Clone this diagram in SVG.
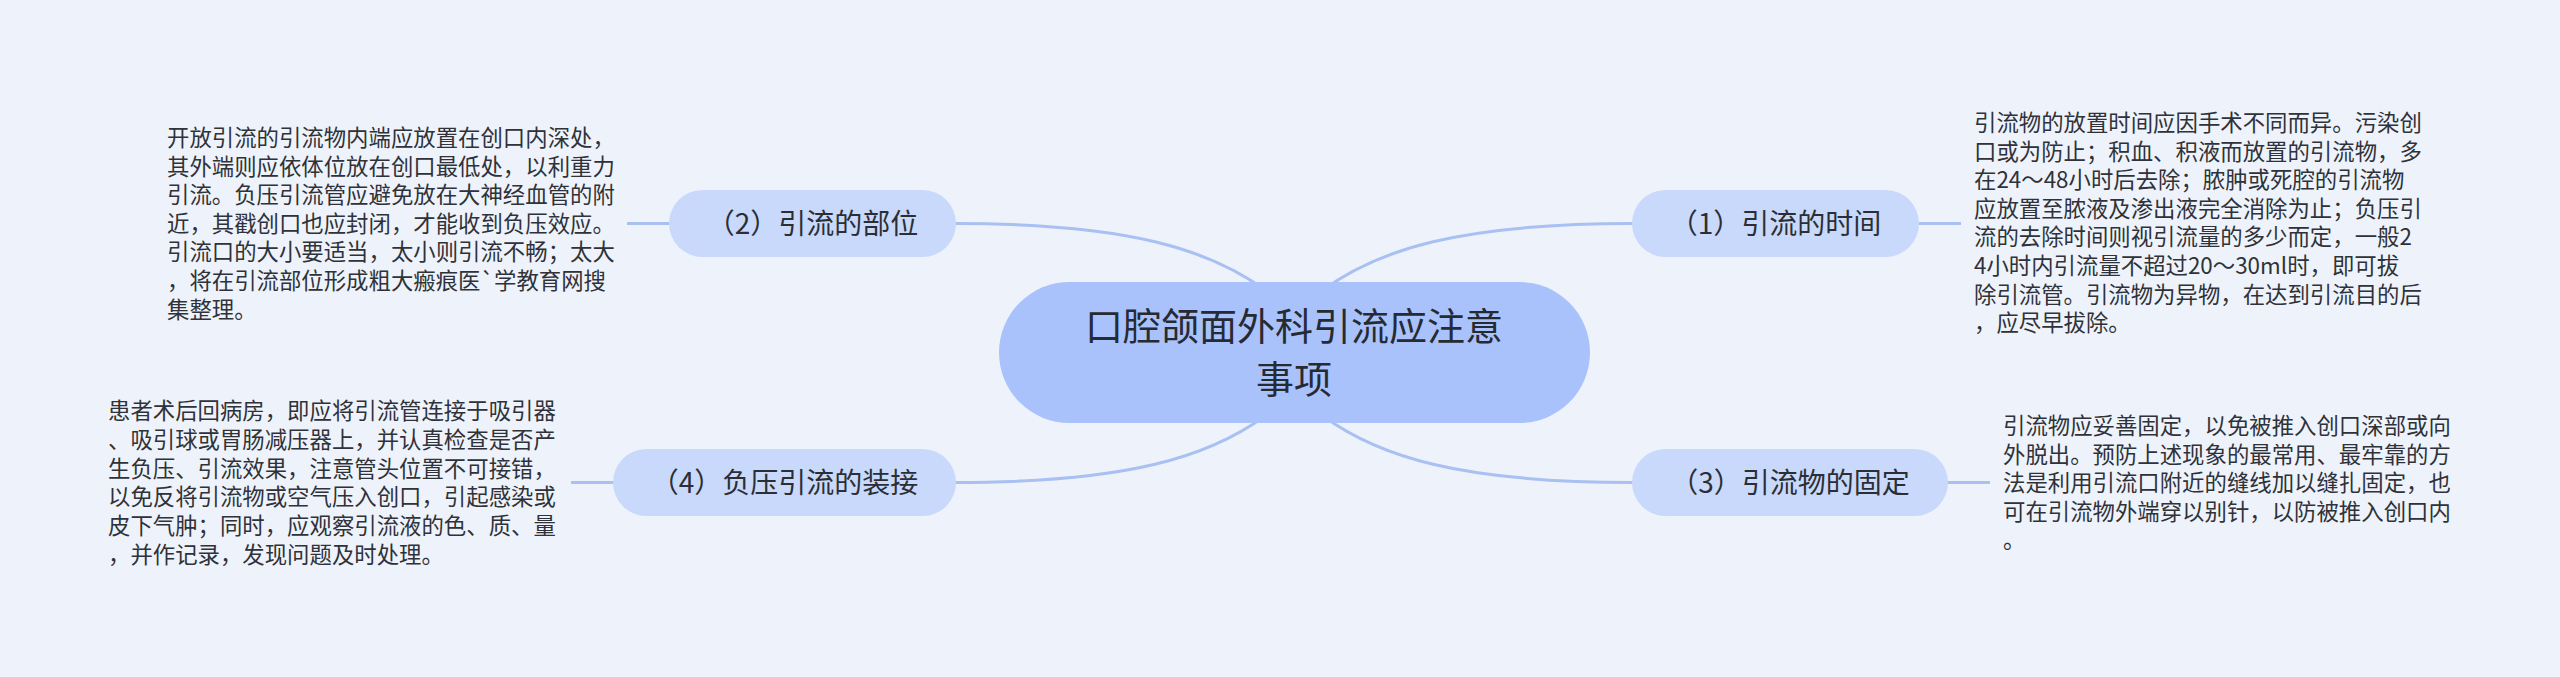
<svg xmlns="http://www.w3.org/2000/svg" width="2560" height="677" viewBox="0 0 2560 677">
<style>
.bg{fill:#eef3fb}
.edge{fill:none;stroke:#a9c0f3;stroke-width:3}
.root{fill:#a9c2fb}
.branch{fill:#c9d9fb}
.rt{font-family:"Noto Sans CJK SC","Noto Sans",sans-serif;font-size:38px;fill:#262a33;text-anchor:middle}
.bt{font-family:"Noto Sans CJK SC","Noto Sans",sans-serif;font-size:28px;fill:#2b2e35;text-anchor:middle}
.dt{font-family:"Noto Sans CJK SC","Noto Sans",sans-serif;font-size:22.4px;fill:#2f3238}
</style>
<rect class="bg" x="0" y="0" width="2560" height="677"/>
<g id="connectors">
<path class="edge" d="M955,223.5 C1130,223.5 1210,250 1265,290"/>
<path class="edge" d="M1633,223.5 C1458,223.5 1378,250 1323,290"/>
<path class="edge" d="M955,482.5 C1130,482.5 1210,456 1265,416"/>
<path class="edge" d="M1633,482.5 C1458,482.5 1378,456 1323,416"/>
<line class="edge" x1="627" y1="223.5" x2="670" y2="223.5"/>
<line class="edge" x1="1918" y1="223.5" x2="1961" y2="223.5"/>
<line class="edge" x1="1947" y1="482.5" x2="1990" y2="482.5"/>
<line class="edge" x1="571" y1="482.5" x2="614" y2="482.5"/>
</g>
<g id="root">
<rect class="root" x="999" y="282" width="591" height="141" rx="70.5"/>
<text class="rt" x="1294" y="340">口腔颌面外科引流应注意</text>
<text class="rt" x="1294" y="393">事项</text>
</g>
<g id="n1">
<rect class="branch" x="1632" y="190" width="287" height="67" rx="33.5"/>
<text class="bt" x="1775.5" y="234">（1）引流的时间</text>
</g>
<g id="n1-detail">
<text class="dt" x="1974" y="131">
<tspan x="1974" dy="0">引流物的放置时间应因手术不同而异。污染创</tspan>
<tspan x="1974" dy="28.6">口或为防止；积血、积液而放置的引流物，多</tspan>
<tspan x="1974" dy="28.6">在24～48小时后去除；脓肿或死腔的引流物</tspan>
<tspan x="1974" dy="28.6">应放置至脓液及渗出液完全消除为止；负压引</tspan>
<tspan x="1974" dy="28.6">流的去除时间则视引流量的多少而定，一般2</tspan>
<tspan x="1974" dy="28.6">4小时内引流量不超过20～30ml时，即可拔</tspan>
<tspan x="1974" dy="28.6">除引流管。引流物为异物，在达到引流目的后</tspan>
<tspan x="1974" dy="28.6">，应尽早拔除。</tspan>
</text>
</g>
<g id="n2">
<rect class="branch" x="669" y="190" width="287" height="67" rx="33.5"/>
<text class="bt" x="812.5" y="234">（2）引流的部位</text>
</g>
<g id="n2-detail">
<text class="dt" x="167" y="146">
<tspan x="167" dy="0">开放引流的引流物内端应放置在创口内深处，</tspan>
<tspan x="167" dy="28.6">其外端则应依体位放在创口最低处，以利重力</tspan>
<tspan x="167" dy="28.6">引流。负压引流管应避免放在大神经血管的附</tspan>
<tspan x="167" dy="28.6">近，其戳创口也应封闭，才能收到负压效应。</tspan>
<tspan x="167" dy="28.6">引流口的大小要适当，太小则引流不畅；太大</tspan>
<tspan x="167" dy="28.6">，将在引流部位形成粗大瘢痕医`学教育网搜</tspan>
<tspan x="167" dy="28.6">集整理。</tspan>
</text>
</g>
<g id="n3">
<rect class="branch" x="1632" y="449" width="316" height="67" rx="33.5"/>
<text class="bt" x="1790" y="493">（3）引流物的固定</text>
</g>
<g id="n3-detail">
<text class="dt" x="2003" y="434">
<tspan x="2003" dy="0">引流物应妥善固定，以免被推入创口深部或向</tspan>
<tspan x="2003" dy="28.6">外脱出。预防上述现象的最常用、最牢靠的方</tspan>
<tspan x="2003" dy="28.6">法是利用引流口附近的缝线加以缝扎固定，也</tspan>
<tspan x="2003" dy="28.6">可在引流物外端穿以别针，以防被推入创口内</tspan>
<tspan x="2003" dy="28.6">。</tspan>
</text>
</g>
<g id="n4">
<rect class="branch" x="613" y="449" width="343" height="67" rx="33.5"/>
<text class="bt" x="784.5" y="493">（4）负压引流的装接</text>
</g>
<g id="n4-detail">
<text class="dt" x="108" y="419">
<tspan x="108" dy="0">患者术后回病房，即应将引流管连接于吸引器</tspan>
<tspan x="108" dy="28.8">、吸引球或胃肠减压器上，并认真检查是否产</tspan>
<tspan x="108" dy="28.8">生负压、引流效果，注意管头位置不可接错，</tspan>
<tspan x="108" dy="28.8">以免反将引流物或空气压入创口，引起感染或</tspan>
<tspan x="108" dy="28.8">皮下气肿；同时，应观察引流液的色、质、量</tspan>
<tspan x="108" dy="28.8">，并作记录，发现问题及时处理。</tspan>
</text>
</g>
</svg>
